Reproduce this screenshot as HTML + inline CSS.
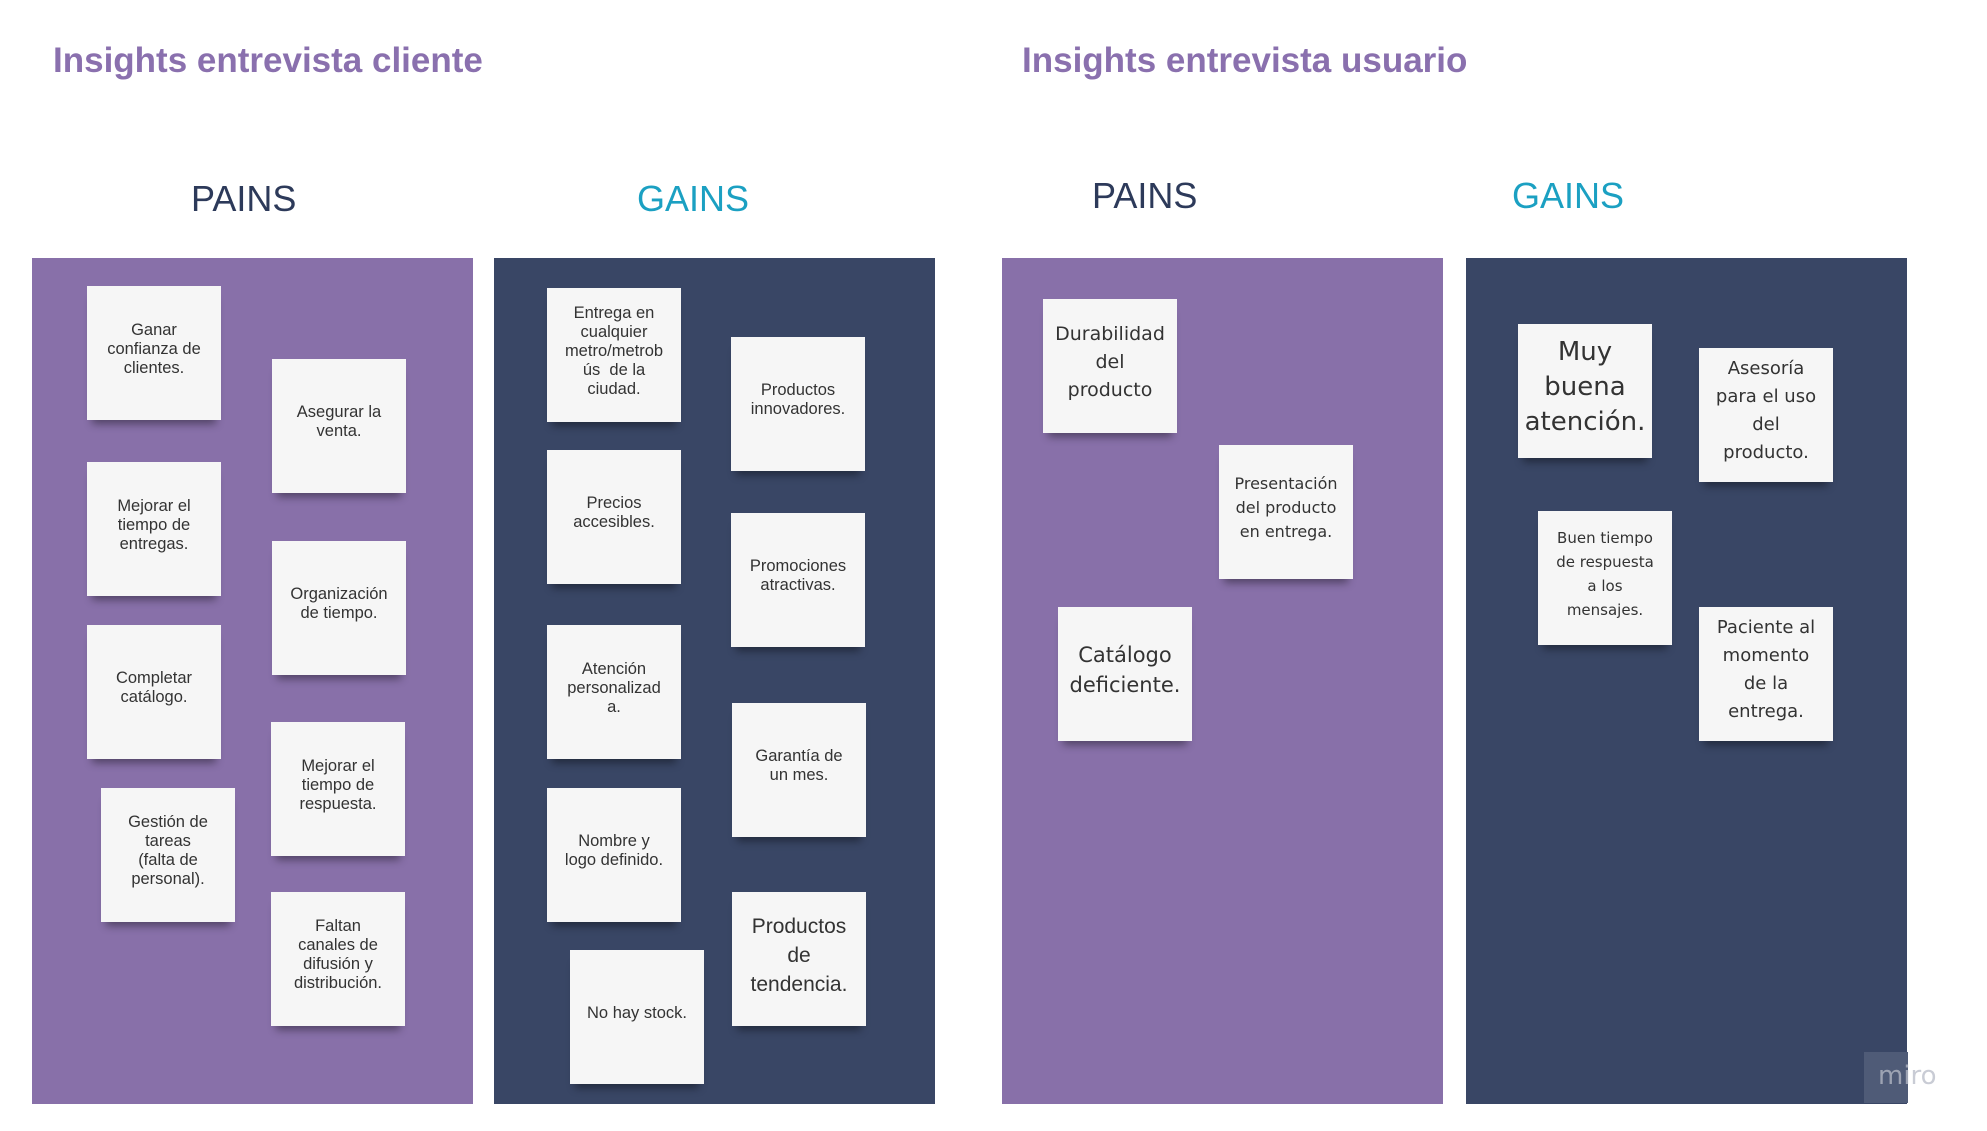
<!DOCTYPE html>
<html><head><meta charset="utf-8">
<style>
*{margin:0;padding:0;box-sizing:border-box}
body{width:1987px;height:1131px;background:#fff;position:relative;overflow:hidden;font-family:"Liberation Sans",sans-serif}
.t{position:absolute;font-weight:bold;color:#8a70ae;font-size:35px;line-height:1}
.h{position:absolute;font-size:36px;line-height:1}
.p{position:absolute;top:258px;height:846px;width:441px}
.n{position:absolute;width:134px;height:134px;background:#f6f6f6;display:flex;align-items:center;justify-content:center;text-align:center;color:#333;font-size:16.5px;line-height:19px;padding:0 4px 8px;box-shadow:0 9px 8px -5px rgba(0,0,0,.4)}
.o{font-family:"DejaVu Sans","Liberation Sans",sans-serif;font-size:16px;line-height:24px}
</style></head><body>
<div class="t" style="left:53px;top:43px">Insights entrevista cliente</div>
<div class="t" style="left:1022px;top:43px">Insights entrevista usuario</div>
<div class="h" style="left:191px;top:181px;color:#2d3a5a">PAINS</div>
<div class="h" style="left:637px;top:181px;color:#1ba0c2">GAINS</div>
<div class="h" style="left:1092px;top:178px;color:#2d3a5a">PAINS</div>
<div class="h" style="left:1512px;top:178px;color:#1ba0c2">GAINS</div>
<div class="p" style="left:32px;background:#8870a9"></div>
<div class="p" style="left:494px;background:#394665"></div>
<div class="p" style="left:1002px;background:#8870a9"></div>
<div class="p" style="left:1466px;background:#394665"></div>

<div class="n" style="left:87px;top:286px">Ganar<br>confianza de<br>clientes.</div>
<div class="n" style="left:272px;top:359px">Asegurar la<br>venta.</div>
<div class="n" style="left:87px;top:462px">Mejorar el<br>tiempo de<br>entregas.</div>
<div class="n" style="left:272px;top:541px">Organización<br>de tiempo.</div>
<div class="n" style="left:87px;top:625px">Completar<br>catálogo.</div>
<div class="n" style="left:271px;top:722px">Mejorar el<br>tiempo de<br>respuesta.</div>
<div class="n" style="left:101px;top:788px">Gestión de<br>tareas<br>(falta de<br>personal).</div>
<div class="n" style="left:271px;top:892px">Faltan<br>canales de<br>difusión y<br>distribución.</div>

<div class="n" style="left:547px;top:288px">Entrega en<br>cualquier<br>metro/metrob<br>ús &nbsp;de la<br>ciudad.</div>
<div class="n" style="left:731px;top:337px">Productos<br>innovadores.</div>
<div class="n" style="left:547px;top:450px">Precios<br>accesibles.</div>
<div class="n" style="left:731px;top:513px">Promociones<br>atractivas.</div>
<div class="n" style="left:547px;top:625px">Atención<br>personalizad<br>a.</div>
<div class="n" style="left:732px;top:703px">Garantía de<br>un mes.</div>
<div class="n" style="left:547px;top:788px">Nombre y<br>logo definido.</div>
<div class="n" style="left:732px;top:892px;font-size:21px;line-height:29px">Productos<br>de<br>tendencia.</div>
<div class="n" style="left:570px;top:950px">No hay stock.</div>

<div class="n o" style="left:1043px;top:299px;font-size:19px;line-height:28px">Durabilidad<br>del<br>producto</div>
<div class="n o" style="left:1219px;top:445px;font-size:16px">Presentación<br>del producto<br>en entrega.</div>
<div class="n o" style="left:1058px;top:607px;font-size:21px;line-height:30px">Catálogo<br>deficiente.</div>

<div class="n o" style="left:1518px;top:324px;font-size:26px;line-height:35px">Muy<br>buena<br>atención.</div>
<div class="n o" style="left:1699px;top:348px;font-size:18px;line-height:28px">Asesoría<br>para el uso<br>del<br>producto.</div>
<div class="n o" style="left:1538px;top:511px;font-size:15px">Buen tiempo<br>de respuesta<br>a los<br>mensajes.</div>
<div class="n o" style="left:1699px;top:607px;font-size:18px;line-height:28px">Paciente al<br>momento<br>de la<br>entrega.</div>

<div style="position:absolute;left:1864px;top:1052px;width:44px;height:51px;background:#4f5b77"></div>
<div style="position:absolute;left:1878px;top:1061px;font-family:'DejaVu Sans',sans-serif;font-size:26px;color:#b8bcc8;opacity:.75">miro</div>
</body></html>
